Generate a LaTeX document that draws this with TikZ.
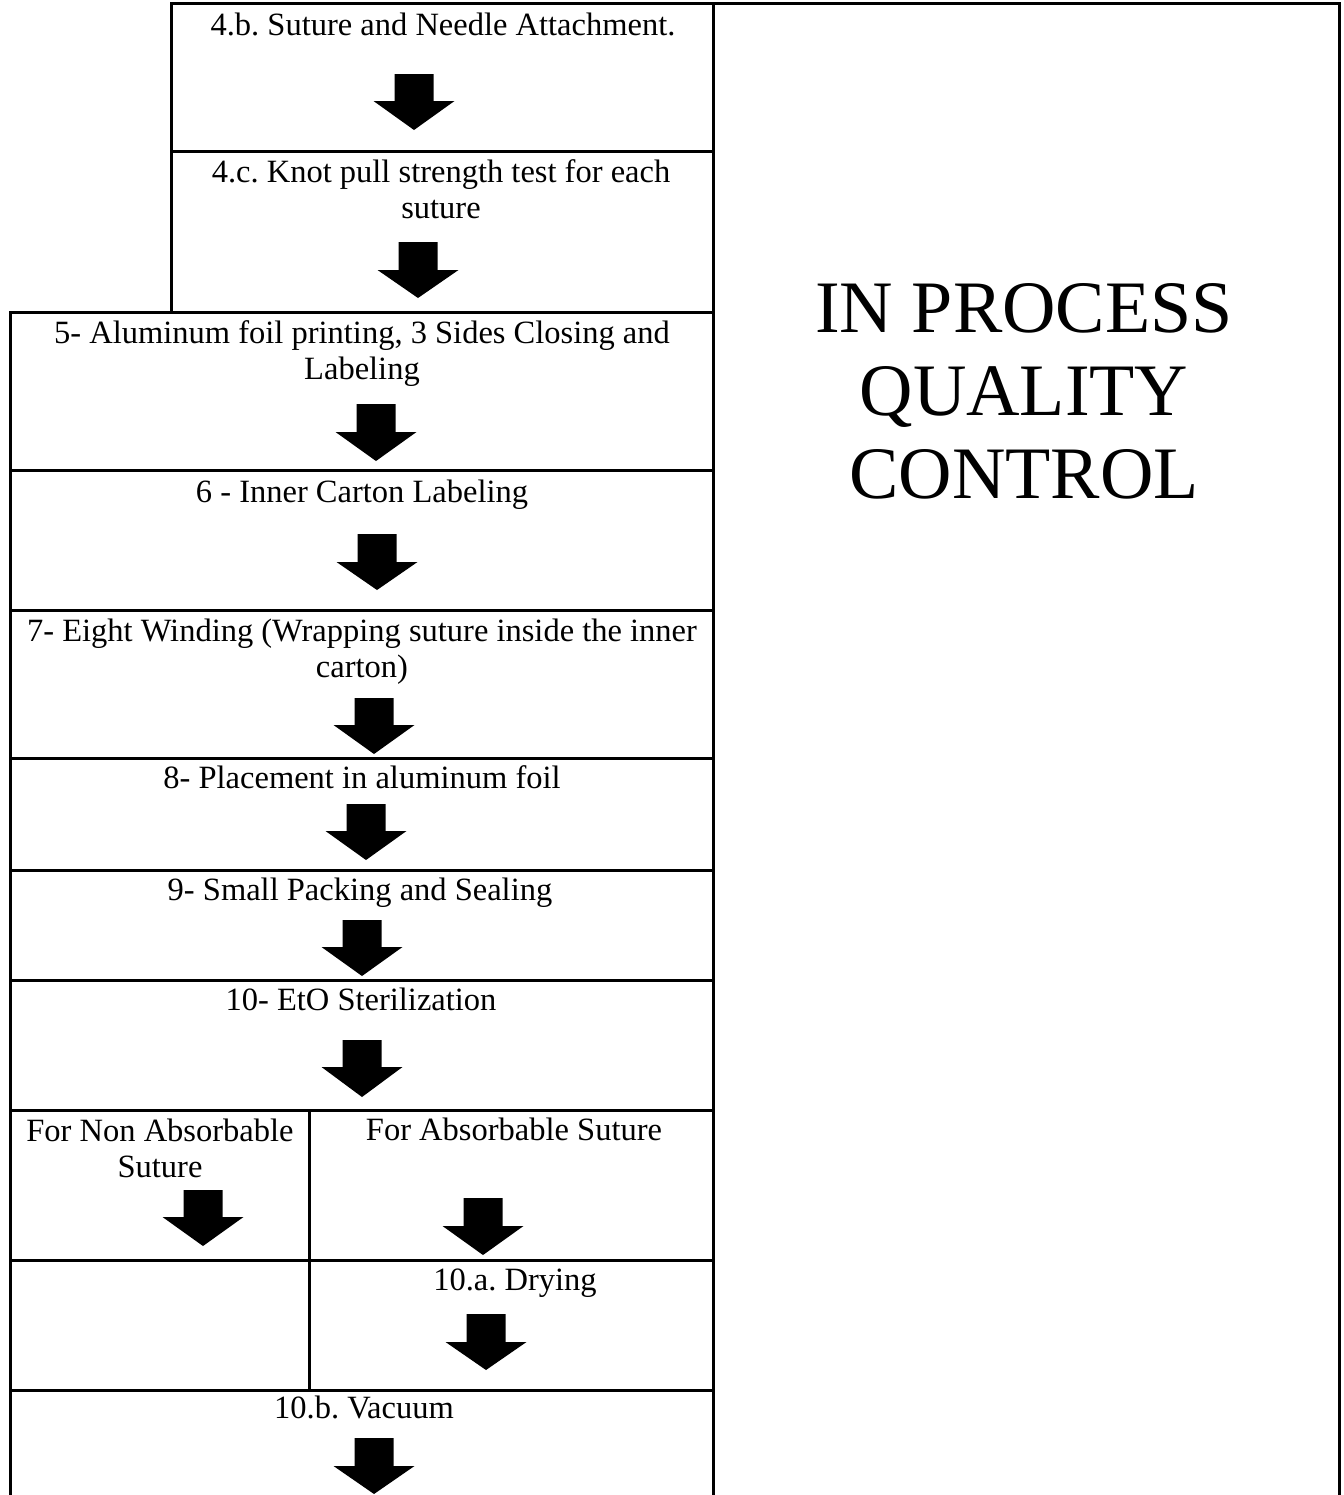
\documentclass[tikz,border=0pt]{standalone}
\usepackage{fontspec}
\setmainfont{Liberation Serif}
\frenchspacing
\newcommand\blkarrow[5]{% name, cx, top, headstart, tip
  \fill[black] (#2-19.5,#3) -- (#2+19.5,#3) -- (#2+19.5,#4) -- (#2+40.5,#4)
    -- (#2,#5) -- (#2-40.5,#4) -- (#2-19.5,#4) -- cycle;
  \coordinate (#1) at (#2,#5);
}
\begin{document}
\begin{tikzpicture}[x=0.5pt,y=-0.5pt,
  grid/.style={line width=1.5pt, line cap=rect},
  lbl/.style={anchor=base, inner sep=0pt, align=center,
    font=\frenchspacing\fontsize{16.25pt}{18pt}\selectfont},
  big/.style={anchor=base, inner sep=0pt, align=center,
    font=\fontsize{37pt}{41.5pt}\selectfont}]
\useasboundingbox (0,0) rectangle (1344,1495);
% right box
\draw[grid] (713,3) -- (1339,3) -- (1339,1500);
\draw[grid] (713,3) -- (713,1500);
% top box
\draw[grid] (171,3) -- (713,3);
\draw[grid] (171,3) -- (171,312);
\draw[grid] (171,151) -- (713,151);
% left column
\draw[grid] (10,312) -- (10,1500);
\foreach \yy in {312,470,610,758,870,980,1110,1260,1390}
  \draw[grid] (10,\yy) -- (713,\yy);
\draw[grid] (309,1110) -- (309,1390);
% texts (anchor = baseline of last line)
\node[lbl] (t4b) at (443,35) {4.b. Suture and Needle Attachment.};
\node[lbl] (t4c) at (441,218) {4.c. Knot pull strength test for each\\suture};
\node[lbl] (t5) at (362,379) {5- Aluminum foil printing, 3 Sides Closing and\\Labeling};
\node[lbl] (t6) at (362,502) {6 - Inner Carton Labeling};
\node[lbl] (t7) at (362,677) {7- Eight Winding (Wrapping suture inside the inner\\carton)};
\node[lbl] (t8) at (362,788) {8- Placement in aluminum foil};
\node[lbl] (t9) at (360,900) {9- Small Packing and Sealing};
\node[lbl] (t10) at (361,1010) {10- EtO Sterilization};
\node[lbl] (tna) at (160,1177) {For Non Absorbable\\Suture};
\node[lbl] (tab) at (514,1140) {For Absorbable Suture};
\node[lbl] (t10a) at (515,1290) {10.a. Drying};
\node[lbl] (t10b) at (364,1418) {10.b. Vacuum};
\node[big] (qc) at (1024,498) {IN PROCESS\\QUALITY\\CONTROL};
% block arrows
\blkarrow{a4b}{414}{74}{101}{130}
\blkarrow{a4c}{418}{242}{270}{298}
\blkarrow{a5}{376}{404}{432}{461}
\blkarrow{a6}{377}{534}{562}{590}
\blkarrow{a7}{374}{698}{725}{754}
\blkarrow{a8}{366}{804}{831}{860}
\blkarrow{a9}{362}{920}{947}{976}
\blkarrow{a10}{362}{1040}{1067}{1097}
\blkarrow{ana}{203}{1190}{1217}{1246}
\blkarrow{aab}{483}{1198}{1226}{1255}
\blkarrow{a10a}{486}{1314}{1342}{1370}
\blkarrow{a10b}{374}{1438}{1466}{1494}
\end{tikzpicture}
\end{document}
